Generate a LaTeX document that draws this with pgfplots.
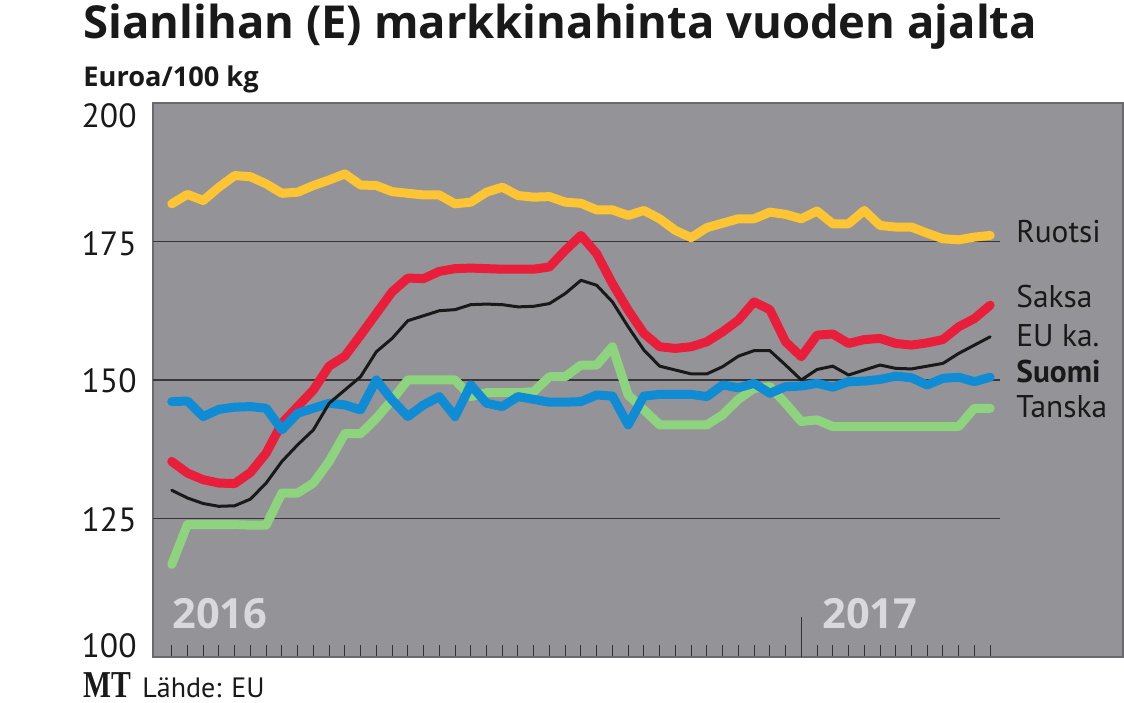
\documentclass[border=0pt]{standalone}
\usepackage{fontspec}
\setmainfont{PT Sans}
\newfontfamily\titlefont{Open Sans}
\newfontfamily\mtfont[FakeStretch=0.78]{Liberation Serif}
\usepackage{pgfplots}
\usepackage{pgfplotstable}
\pgfplotsset{compat=1.18}
\definecolor{plotbg}{RGB}{148,147,152}
\definecolor{framec}{RGB}{105,105,110}
\definecolor{gridc}{RGB}{55,55,58}
\definecolor{tickc}{RGB}{50,50,52}
\definecolor{cruotsi}{RGB}{253,196,52}
\definecolor{csaksa}{RGB}{233,30,58}
\definecolor{ceu}{RGB}{25,25,25}
\definecolor{csuomi}{RGB}{16,140,212}
\definecolor{ctanska}{RGB}{142,212,126}
\definecolor{yearc}{RGB}{216,216,221}
\definecolor{textc}{RGB}{25,25,25}

\pgfplotstableread{
x ruotsi saksa eu suomi tanska
0 181.8 135.3 130.1 146.1 116.7
1 183.5 133.2 128.7 146.2 123.9
2 182.4 132.0 127.7 143.4 123.9
3 184.8 131.4 127.2 144.7 123.9
4 186.9 131.3 127.3 145.1 123.9
5 186.7 133.3 128.5 145.2 123.8
6 185.4 136.8 131.4 144.9 123.8
7 183.7 142.2 135.3 141.0 129.6
8 183.9 145.2 138.3 144.0 129.6
9 185.1 148.2 141.0 144.9 131.4
10 186.1 152.5 145.8 145.8 135.3
11 187.2 154.3 148.2 145.5 140.3
12 185.2 158.1 150.6 144.6 140.3
13 185.1 162.0 155.1 150.0 143.1
14 184.0 165.9 157.5 146.4 146.4
15 183.7 168.4 160.7 143.4 150.0
16 183.4 168.3 161.6 145.5 150.0
17 183.4 169.6 162.5 147.0 150.0
18 181.8 170.1 162.7 143.4 150.0
19 182.1 170.2 163.6 149.1 147.0
20 183.9 170.1 163.7 145.8 147.7
21 184.8 170.0 163.6 145.2 147.7
22 183.3 170.0 163.2 147.0 147.7
23 183.0 170.0 163.3 146.5 147.9
24 183.1 170.4 163.8 146.0 150.6
25 182.1 173.4 165.6 146.0 150.6
26 181.9 176.1 168.0 146.1 152.7
27 180.7 172.8 167.1 147.3 152.7
28 180.7 167.4 164.1 147.1 156.0
29 179.7 162.6 159.6 141.9 147.3
30 180.6 158.4 155.4 147.1 144.6
31 179.1 156.0 152.5 147.4 141.9
32 177.0 155.7 151.8 147.4 141.9
33 175.7 156.0 151.1 147.4 141.9
34 177.5 156.9 151.1 147.0 141.9
35 178.3 158.7 152.4 149.1 143.7
36 179.1 160.8 154.3 148.6 146.5
37 179.1 164.1 155.3 149.4 148.5
38 180.3 162.7 155.3 147.6 148.8
39 179.9 156.9 152.7 148.8 145.8
40 179.1 154.2 150.0 148.9 142.5
41 180.5 158.1 151.9 149.4 142.8
42 178.2 158.3 152.5 148.7 141.6
43 178.2 156.6 150.9 149.7 141.6
44 180.6 157.3 151.8 149.8 141.6
45 177.9 157.5 152.7 150.1 141.6
46 177.6 156.6 152.1 150.7 141.6
47 177.6 156.3 152.0 150.4 141.6
48 176.5 156.7 152.5 149.1 141.6
49 175.5 157.3 153.0 150.3 141.6
50 175.3 159.6 154.8 150.5 141.6
51 175.8 161.1 156.3 149.7 144.9
52 176.1 163.5 157.8 150.5 144.9
}\prices

\newcommand\PX[2]{({#1*0.5pt},{(702-#2)*0.5pt})}

\begin{document}
\begin{tikzpicture}
\useasboundingbox (0,0) rectangle (562pt,351pt);
\begin{axis}[
  at={(76.5pt,22.5pt)}, anchor=south west,
  width=485pt, height=277pt, scale only axis,
  xmin=-1.19, xmax=60.44, ymin=100, ymax=200,
  axis background/.style={fill=plotbg},
  axis line style={draw=framec, line width=0.7pt},
  xtick={0,...,52}, xticklabels={},
  ytick=\empty,
  major tick length=6pt, tick align=inside, xtick pos=bottom,
  tick style={draw=tickc, line width=0.5pt},
  clip=false,
  every axis plot/.append style={line cap=round, line join=round, mark=none},
]
\draw[gridc, line width=0.6pt] (axis cs:-1.19,175) -- (axis cs:52.6,175);
\draw[gridc, line width=0.6pt] (axis cs:-1.19,150) -- (axis cs:52.6,150);
\draw[gridc, line width=0.6pt] (axis cs:-1.19,125) -- (axis cs:52.6,125);
\draw[tickc, line width=0.6pt] (axis cs:40,100) -- (axis cs:40,107.2);
\addplot[cruotsi, line width=4.5pt] table[x=x, y=ruotsi] {\prices};
\addplot[ctanska, line width=4.5pt] table[x=x, y=tanska] {\prices};
\addplot[csaksa, line width=4.5pt] table[x=x, y=saksa] {\prices};
\addplot[csuomi, line width=4.5pt] table[x=x, y=suomi] {\prices};
\addplot[ceu, line width=1.5pt] table[x=x, y=eu] {\prices};
\end{axis}
% titles
\node[anchor=base west, inner sep=0, text=textc] at \PX{83}{39}
  {\titlefont\fontsize{22.7pt}{28pt}\selectfont\bfseries Sianlihan (E) markkinahinta vuoden ajalta};
\node[anchor=base west, inner sep=0, text=textc] at \PX{83}{87}
  {\titlefont\fontsize{13.6pt}{16pt}\selectfont\bfseries Euroa/100 kg};
% y labels
\begin{scope}[every node/.style={anchor=base east, inner sep=0, text=textc, font=\fontsize{16.8pt}{20pt}\selectfont}]
\node at \PX{137}{128} {200};
\node at \PX{137}{255.5} {175};
\node at \PX{137}{392.5} {150};
\node at \PX{137}{531} {125};
\node at \PX{137}{657} {100};
\end{scope}
% series labels
\begin{scope}[every node/.style={anchor=base west, inner sep=0, text=textc, font=\fontsize{15.7pt}{18pt}\selectfont}]
\node at \PX{1016}{242.3} {Ruotsi};
\node at \PX{1016}{308} {Saksa};
\node at \PX{1016}{346.7} {EU ka.};
\node at \PX{1016}{383} {\bfseries Suomi};
\node at \PX{1016}{418} {Tanska};
\end{scope}
% years
\node[anchor=base west, inner sep=0, text=yearc] at \PX{172}{628} {\titlefont\fontsize{20.8pt}{24pt}\selectfont\bfseries 2016};
\node[anchor=base west, inner sep=0, text=yearc] at \PX{822}{628} {\titlefont\fontsize{20.8pt}{24pt}\selectfont\bfseries 2017};
% footer
\node[anchor=base west, inner sep=0, text=textc] at \PX{83}{697} {\mtfont\bfseries\fontsize{19pt}{22pt}\selectfont MT};
\node[anchor=base west, inner sep=0, text=textc] at \PX{142}{697} {\fontsize{14pt}{16pt}\selectfont Lähde: EU};
\end{tikzpicture}
\end{document}
